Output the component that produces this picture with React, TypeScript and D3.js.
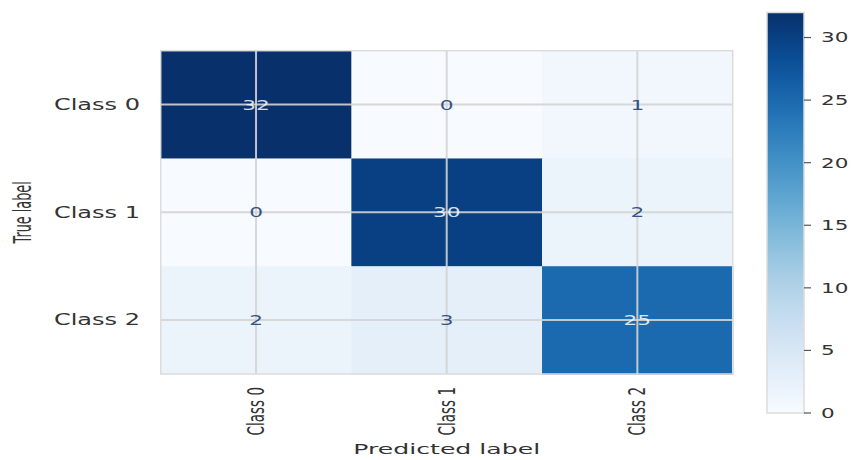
import React from "react";
import * as d3 from "d3";

const classes = ["Class 0", "Class 1", "Class 2"];
const row0 = [32, 0, 1];
const row1 = [0, 30, 2];
const row2 = [2, 3, 25];
const matrix = [row0, row1, row2];
const cbTicks = [0, 5, 10, 15, 20, 25, 30];
const vmax = 32;

const W = 853;
const H = 460;
const FONT = "DejaVu Sans, sans-serif";

export default function App() {
  const hx0 = 160.7, hx1 = 732.7, hy0 = 50.7, hy1 = 374;
  const x = d3.scaleBand<string>().domain(classes).range([hx0, hx1]);
  const y = d3.scaleBand<string>().domain(classes).range([hy0, hy1]);
  const color = (v: number) => d3.interpolateBlues(v / vmax);
  const thresh = vmax / 2;

  const cbx0 = 767, cbx1 = 804, cbTop = 12.5, cbBot = 413;
  const cb = d3.scaleLinear().domain([0, vmax]).range([cbBot, cbTop]);
  const stops = d3.range(0, 1.0001, 0.05);

  const gridColor = "#d4d4d4";

  return (
    <svg width={W} height={H} style={{ position: "absolute", left: 0, top: 0, background: "#fff" }}>
      <defs>
        <linearGradient id="cbgrad" x1="0" y1="1" x2="0" y2="0">
          {stops.map((s, i) => (
            <stop key={i} offset={`${s * 100}%`} stopColor={d3.interpolateBlues(s)} />
          ))}
        </linearGradient>
      </defs>
      <rect x={0} y={0} width={W} height={H} fill="#fff" />
      {/* cells */}
      {matrix.map((row, i) =>
        row.map((v, j) => (
          <rect
            key={`c${i}-${j}`}
            x={x(classes[j])!}
            y={y(classes[i])!}
            width={x.bandwidth() + 0.5}
            height={y.bandwidth() + 0.5}
            fill={color(v)}
          />
        ))
      )}
      {/* grid lines at cell centers */}
      {classes.map((c) => (
        <line
          key={`gv${c}`}
          x1={x(c)! + x.bandwidth() / 2}
          x2={x(c)! + x.bandwidth() / 2}
          y1={hy0}
          y2={hy1}
          stroke={gridColor}
          strokeWidth={2}
          opacity={0.9}
        />
      ))}
      {classes.map((c) => (
        <line
          key={`gh${c}`}
          x1={hx0}
          x2={hx1}
          y1={y(c)! + y.bandwidth() / 2}
          y2={y(c)! + y.bandwidth() / 2}
          stroke={gridColor}
          strokeWidth={2}
          opacity={0.9}
        />
      ))}
      <rect x={hx0} y={hy0} width={hx1 - hx0} height={hy1 - hy0} fill="none" stroke="#dcdcdc" strokeWidth={1.5} />
      {/* annotations */}
      {matrix.map((row, i) =>
        row.map((v, j) => {
          const cx = x(classes[j])! + x.bandwidth() / 2;
          const cy = y(classes[i])! + y.bandwidth() / 2;
          return (
            <text
              key={`t${i}-${j}`}
              transform={`translate(${cx},${cy}) scale(1.55,1)`}
              textAnchor="middle"
              dominantBaseline="central"
              fontFamily={FONT}
              fontSize={14}
              fill={v > thresh ? "#f7fbff" : "#08306b"}
              opacity={v > thresh ? 0.85 : 0.8}
            >
              {v}
            </text>
          );
        })
      )}
      {/* y tick labels */}
      {classes.map((c) => (
        <text
          key={`yt${c}`}
          transform={`translate(140,${y(c)! + y.bandwidth() / 2}) scale(1.55,1)`}
          textAnchor="end"
          dominantBaseline="central"
          fontFamily={FONT}
          fontSize={15.5}
          fill="#333"
        >
          {c}
        </text>
      ))}
      {/* x tick labels (rotated) */}
      {classes.map((c) => (
        <text
          key={`xt${c}`}
          transform={`translate(${x(c)! + x.bandwidth() / 2},387) scale(1.75,1) rotate(-90)`}
          textAnchor="end"
          dominantBaseline="central"
          fontFamily={FONT}
          fontSize={13.5}
          fill="#333"
        >
          {c}
        </text>
      ))}
      {/* axis titles */}
      <text
        transform={`translate(${(hx0 + hx1) / 2},454) scale(1.7,1)`}
        textAnchor="middle"
        fontFamily={FONT}
        fontSize={14.8}
        fill="#333"
      >
        Predicted label
      </text>
      <text
        transform={`translate(23,${(hy0 + hy1) / 2}) scale(1.9,1) rotate(-90)`}
        textAnchor="middle"
        dominantBaseline="central"
        fontFamily={FONT}
        fontSize={12.8}
        fill="#333"
      >
        True label
      </text>
      {/* colorbar */}
      <rect x={cbx0} y={cbTop} width={cbx1 - cbx0} height={cbBot - cbTop} fill="url(#cbgrad)" stroke="#dcdcdc" strokeWidth={1.5} />
      {cbTicks.map((t) => (
        <g key={`cb${t}`}>
          <line x1={cbx1} x2={cbx1 + 7} y1={cb(t)} y2={cb(t)} stroke="#555" strokeWidth={1.2} />
          <text
            transform={`translate(821,${cb(t)}) scale(1.57,1)`}
            textAnchor="start"
            dominantBaseline="central"
            fontFamily={FONT}
            fontSize={13.7}
            fill="#333"
          >
            {t}
          </text>
        </g>
      ))}
    </svg>
  );
}
